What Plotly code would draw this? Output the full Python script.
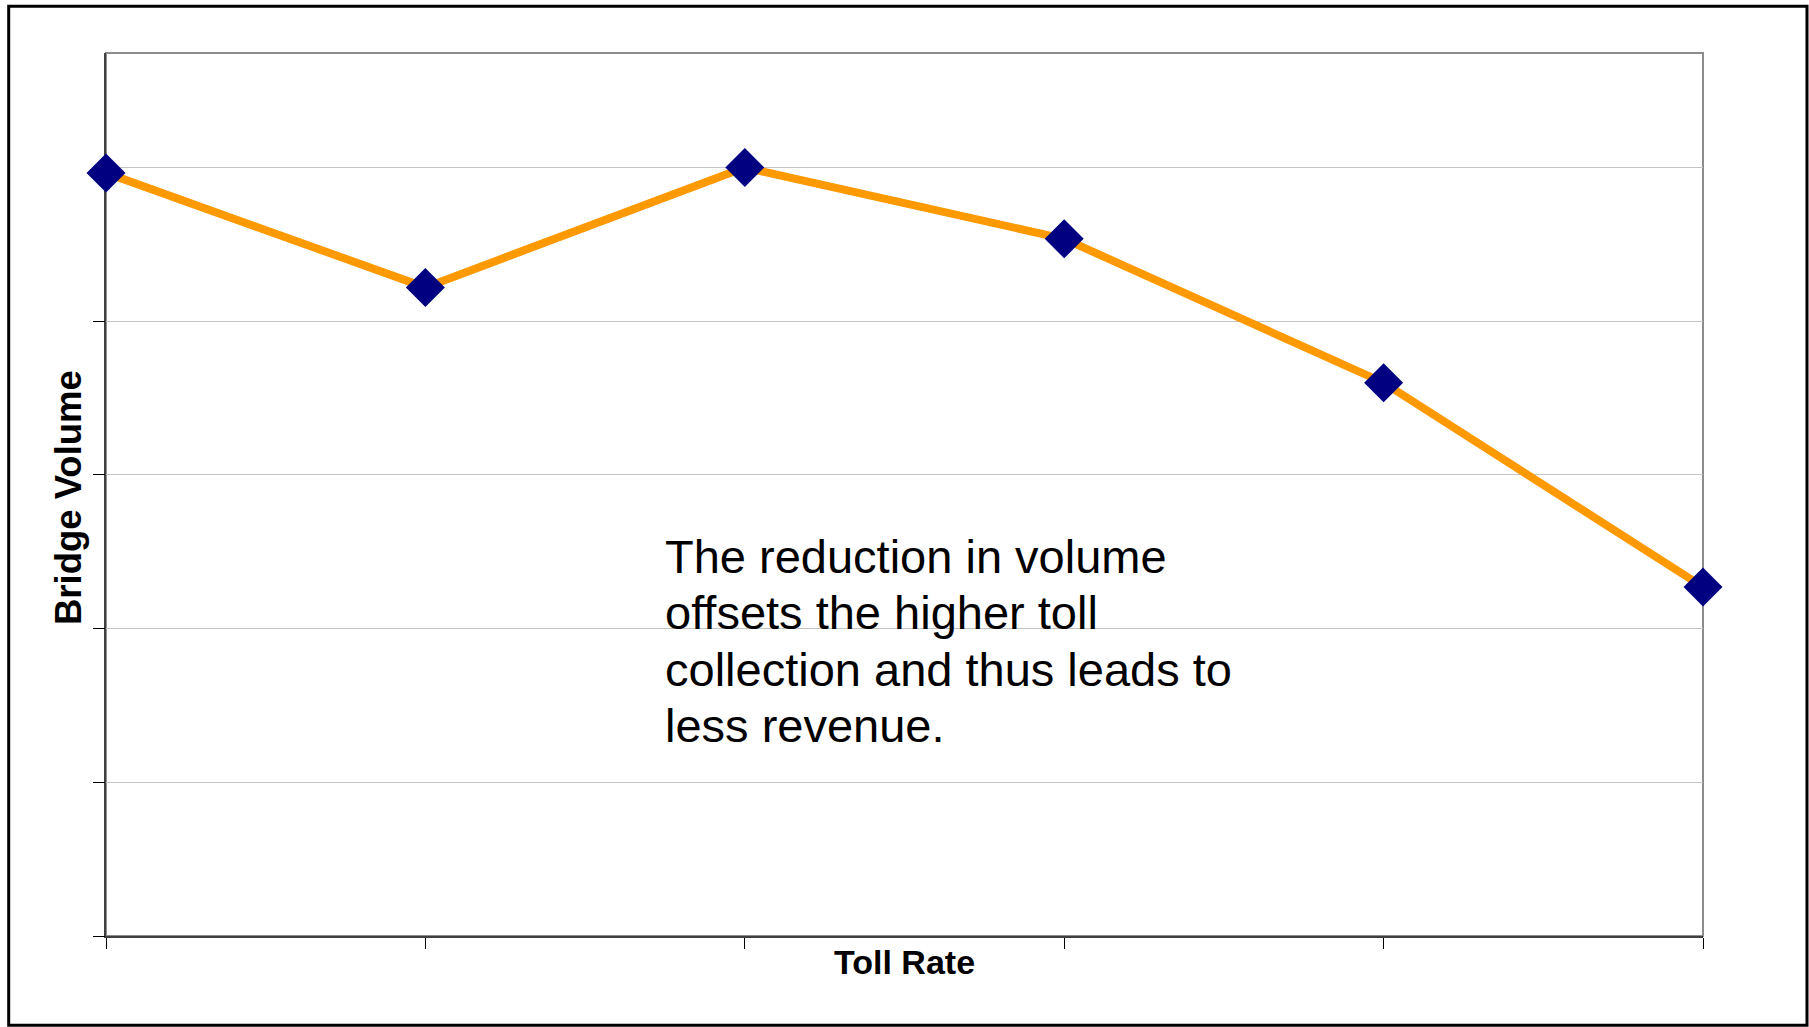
import plotly.graph_objects as go

# Bridge volume observed at six successive toll rates
toll_rate = [1, 2, 3, 4, 5, 6]
bridge_volume = [4.965, 4.22, 5.00, 4.536, 3.60, 2.271]

note_lines = [
    "The reduction in volume",
    "offsets the higher toll",
    "collection and thus leads to",
    "less revenue.",
]

W, H = 1809, 1027
ML, MR, MT, MB = 106, 106, 53, 91
PW, PH = W - ML - MR, H - MT - MB
FONT = "Liberation Sans, Arial, sans-serif"


def px_x(px):
    return (px - ML) / PW


def px_y(py):
    return (H - MB - py) / PH


fig = go.Figure()
fig.add_trace(go.Scatter(
    x=toll_rate,
    y=bridge_volume,
    mode="lines+markers",
    line=dict(color="#FF9900", width=8),
    marker=dict(symbol="diamond", size=30, color="#000080", line=dict(width=0)),
    cliponaxis=False,
    hoverinfo="skip",
    showlegend=False,
))

y_range = [0, 5.745]

fig.update_layout(
    width=W,
    height=H,
    margin=dict(l=ML, r=MR, t=MT, b=MB, pad=0),
    paper_bgcolor="white",
    plot_bgcolor="white",
    font=dict(family=FONT, color="black"),
    xaxis=dict(
        range=[toll_rate[0], toll_rate[-1]],
        tickvals=toll_rate,
        showticklabels=False,
        ticks="outside",
        ticklen=11,
        tickwidth=1,
        tickcolor="black",
        showgrid=False,
        zeroline=False,
        showline=True,
        linecolor="#404040",
        linewidth=1.5,
        layer="below traces",
        fixedrange=True,
    ),
    yaxis=dict(
        range=y_range,
        dtick=1,
        tick0=0,
        showticklabels=False,
        ticks="",
        showgrid=True,
        gridcolor="#C4C4C4",
        gridwidth=1,
        zeroline=False,
        showline=True,
        linecolor="#404040",
        linewidth=1.5,
        layer="below traces",
        fixedrange=True,
    ),
    # second y axis carries only the outside tick marks
    yaxis2=dict(
        range=y_range,
        overlaying="y",
        side="left",
        tickvals=[0, 1, 2, 3, 4],
        showticklabels=False,
        ticks="outside",
        ticklen=12,
        tickwidth=1,
        tickcolor="black",
        showgrid=False,
        zeroline=False,
        showline=False,
        layer="below traces",
        fixedrange=True,
    ),
)

# invisible trace to activate the tick-mark axis
fig.add_trace(go.Scatter(x=[toll_rate[0]], y=[0], yaxis="y2", mode="markers",
                         marker=dict(opacity=0), hoverinfo="skip", showlegend=False))

shapes = [
    # plot-area frame
    dict(type="rect", xref="paper", yref="paper", x0=0, x1=1, y0=0, y1=1,
         line=dict(color="#8C8C8C", width=2), layer="below"),
    # outer chart border
    dict(type="rect", xref="paper", yref="paper",
         x0=px_x(8.7), x1=px_x(1807), y0=px_y(1025.3), y1=px_y(6.2),
         line=dict(color="black", width=3)),
]
fig.update_layout(shapes=shapes)

annotations = [
    dict(text="<b>Toll Rate</b>", xref="paper", yref="paper",
         x=0.5, y=px_y(962), xanchor="center", yanchor="middle",
         showarrow=False, font=dict(size=34, family=FONT, color="black")),
    dict(text="<b>Bridge Volume</b>", xref="paper", yref="paper",
         x=px_x(68), y=px_y(498), xanchor="center", yanchor="middle",
         textangle=-90, showarrow=False,
         font=dict(size=36.5, family=FONT, color="black")),
]

note_size = 47
first_mid = 556
line_gap = 56.5
for i, line in enumerate(note_lines):
    mid = first_mid + i * line_gap
    annotations.append(dict(
        text=line, xref="paper", yref="paper",
        x=px_x(663), y=px_y(mid), xanchor="left", yanchor="middle",
        showarrow=False, font=dict(size=note_size, family=FONT, color="black"),
    ))

fig.update_layout(annotations=annotations)

fig.write_html("out.html", config={"displayModeBar": False})
